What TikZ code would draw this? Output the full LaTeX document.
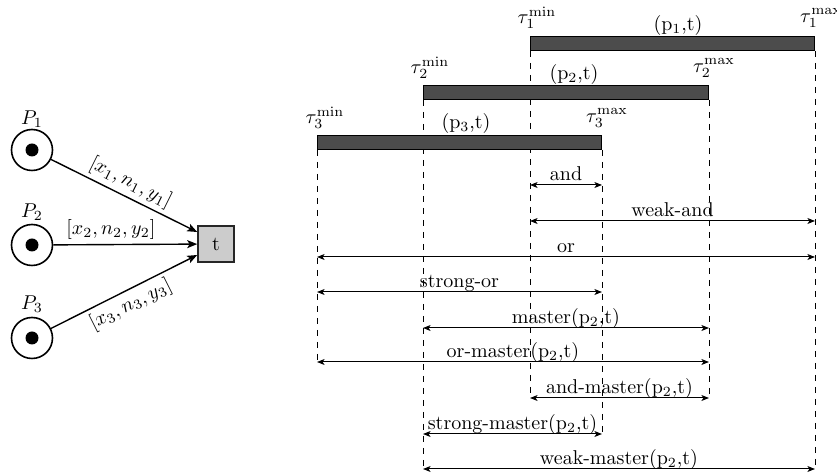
\documentclass[tikz,border=0pt]{standalone}
\usetikzlibrary{arrows.meta}
\pgfdeclarelayer{background}
\pgfsetlayers{background,main}
\begin{document}
\begin{tikzpicture}[x=0.5pt,y=-0.5pt,
  place/.style={circle,draw,line width=0.8pt,minimum size=20.5pt,inner sep=0pt},
  token/.style={circle,fill=black,minimum size=6.5pt,inner sep=0pt},
  trans/.style={rectangle,draw=black!85,line width=0.8pt,fill=black!20,minimum size=18pt,inner sep=0pt},
  arc/.style={line width=0.7pt,-{Stealth[length=5pt,width=4pt,inset=1.2pt]}},
  bar/.style={rectangle,draw,line width=0.5pt,fill=black!70,inner sep=0pt,minimum height=7pt,anchor=north west},
  dline/.style={dashed,line width=0.4pt},
  dim/.style={line width=0.5pt,{Stealth[length=3.8pt,width=3pt,inset=1pt]}-{Stealth[length=3.8pt,width=3pt,inset=1pt]}},
  dlab/.style={anchor=base,yshift=2pt,inner sep=0pt},
  tlab/.style={inner sep=0pt}]
\useasboundingbox (0,0) rectangle (837,475);
% Petri net
\node[place] (p1) at (32,150) {};
\node[place] (p2) at (32,245) {};
\node[place] (p3) at (32,338) {};
\node[token] (k1) at (p1) {};
\node[token] (k2) at (p2) {};
\node[token] (k3) at (p3) {};
\node[tlab] (lp1) at (32,119) {$P_1$};
\node[tlab] (lp2) at (32,212) {$P_2$};
\node[tlab] (lp3) at (32,304) {$P_3$};
\node[trans] (t) at (216,244) {t};
\coordinate (t1) at ([yshift=6pt]t.west);
\coordinate (t3) at ([yshift=-5.5pt]t.west);
\draw[arc] (p1) -- node[sloped,above,inner sep=2pt] (e1) {$[x_1,n_1,y_1]$} (t1);
\draw[arc] (p2) -- node[pos=0.4,above,inner sep=2pt] (e2) {$[x_2,n_2,y_2]$} (t);
\draw[arc] (p3) -- node[sloped,below,inner sep=2pt] (e3) {$[x_3,n_3,y_3]$} (t3);
% levels
\coordinate (yand) at (0,185);
\coordinate (ywand) at (0,221);
\coordinate (yor) at (0,257);
\coordinate (ysor) at (0,292);
\coordinate (ym) at (0,328);
\coordinate (yom) at (0,362);
\coordinate (yam) at (0,398);
\coordinate (ysm) at (0,434);
\coordinate (ywm) at (0,469);
% bars
\path (530,36) node[bar,minimum width=142pt] (b1) {};
\path (423,85) node[bar,minimum width=142.5pt] (b2) {};
\path (317,135) node[bar,minimum width=142pt] (b3) {};
% dashed guides behind the bars
\begin{pgfonlayer}{background}
\draw[dline] (b1.south west) -- (b1.south west |- yam);
\draw[dline] (b1.south east) -- (b1.south east |- ywm);
\draw[dline] (b2.south west) -- (b2.south west |- ywm);
\draw[dline] (b2.south east) -- (b2.south east |- yam);
\draw[dline] (b3.south west) -- (b3.south west |- yom);
\draw[dline] (b3.south east) -- (b3.south east |- ysm);
\end{pgfonlayer}
\node[tlab] (n1) at (678,26) {(p$_1$,t)};
\node[tlab] (n2) at (574,75) {(p$_2$,t)};
\node[tlab] (n3) at (466,124) {(p$_3$,t)};
\node[tlab] (a1) at (537,18) {$\tau_1^{\mathrm{min}}$};
\node[tlab] (c1) at (821,18) {$\tau_1^{\mathrm{max}}$};
\node[tlab] (a2) at (430,68) {$\tau_2^{\mathrm{min}}$};
\node[tlab] (c2) at (714,68) {$\tau_2^{\mathrm{max}}$};
\node[tlab] (a3) at (325,118) {$\tau_3^{\mathrm{min}}$};
\node[tlab] (c3) at (607,118) {$\tau_3^{\mathrm{max}}$};
% relations
\draw[dim] (b1.south west |- yand) -- node[dlab] (r1) {and} (b3.south east |- yand);
\draw[dim] (b1.south west |- ywand) -- node[dlab] (r2) {weak-and} (b1.south east |- ywand);
\draw[dim] (b3.south west |- yor) -- node[dlab] (r3) {or} (b1.south east |- yor);
\draw[dim] (b3.south west |- ysor) -- node[dlab] (r4) {strong-or} (b3.south east |- ysor);
\draw[dim] (b2.south west |- ym) -- node[dlab] (r5) {master(p$_2$,t)} (b2.south east |- ym);
\draw[dim] (b3.south west |- yom) -- node[dlab] (r6) {or-master(p$_2$,t)} (b2.south east |- yom);
\draw[dim] (b1.south west |- yam) -- node[dlab] (r7) {and-master(p$_2$,t)} (b2.south east |- yam);
\draw[dim] (b2.south west |- ysm) -- node[dlab] (r8) {strong-master(p$_2$,t)} (b3.south east |- ysm);
\draw[dim] (b2.south west |- ywm) -- node[dlab] (r9) {weak-master(p$_2$,t)} (b1.south east |- ywm);
\end{tikzpicture}
\end{document}
